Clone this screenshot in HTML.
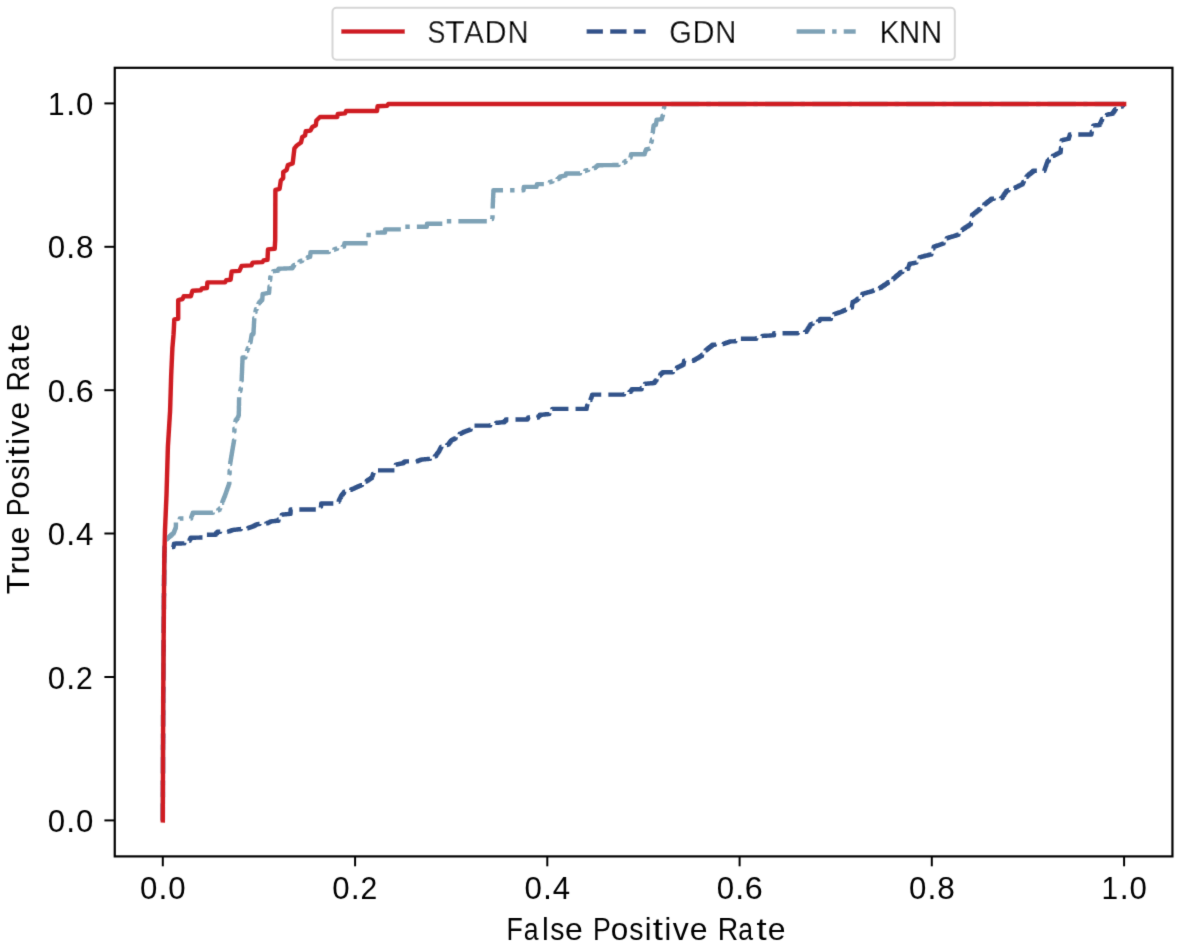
<!DOCTYPE html>
<html><head><meta charset="utf-8"><title>ROC</title>
<style>
html,body{margin:0;padding:0;background:#fff;}
svg{display:block;will-change:transform;}
text{font-family:'Liberation Sans',sans-serif;fill:#000;}
</style></head><body>
<svg width="1179" height="948" viewBox="0 0 1179 948">
<rect x="0" y="0" width="1179" height="948" fill="#fff"/>
<defs><filter id="b" x="0" y="0" width="1179" height="948" filterUnits="userSpaceOnUse"><feConvolveMatrix order="3" kernelMatrix="0.01134 0.08382 0.01134 0.08382 0.61935 0.08382 0.01134 0.08382 0.01134" divisor="1" edgeMode="duplicate" preserveAlpha="false"/></filter></defs><g filter="url(#b)">
<polyline points="162.8,820.4 162.8,818.9 162.8,817.4 162.8,815.9 162.8,814.4 162.8,812.9 162.8,811.4 162.8,809.9 162.8,808.5 162.8,807.0 162.8,805.5 162.8,804.0 162.9,804.0 162.9,802.5 162.9,801.0 162.9,799.5 162.9,798.1 162.9,796.6 162.9,795.1 162.9,793.6 162.9,792.1 162.9,790.6 162.9,789.1 162.9,787.7 162.9,786.2 162.9,784.7 162.9,783.2 162.9,781.7 162.9,780.2 162.9,778.7 162.9,777.3 162.9,775.8 162.9,774.3 163.0,774.3 163.0,772.8 163.0,771.3 163.0,769.8 163.0,768.3 163.0,766.9 163.0,765.4 163.0,763.9 163.0,762.4 163.0,760.9 163.0,759.4 163.0,757.9 163.0,756.5 163.0,755.0 163.0,753.5 163.0,752.0 163.0,750.5 163.0,749.0 163.0,747.5 163.0,746.1 163.0,744.6 163.1,744.6 163.1,743.1 163.1,741.6 163.1,740.1 163.1,738.6 163.1,737.1 163.1,735.7 163.1,734.2 163.1,732.7 163.1,731.2 163.1,729.7 163.1,728.2 163.1,726.7 163.1,725.3 163.1,723.8 163.1,722.3 163.1,720.8 163.1,719.3 163.1,717.8 163.1,716.3 163.1,714.9 163.2,714.9 163.2,713.4 163.2,711.9 163.2,710.4 163.2,708.9 163.2,707.4 163.2,705.9 163.2,704.5 163.2,703.0 163.2,701.5 163.2,700.0 163.2,698.5 163.2,697.0 163.2,695.5 163.2,694.1 163.2,692.6 163.3,692.6 163.3,691.1 163.3,689.6 163.3,688.1 163.3,686.6 163.3,685.1 163.3,683.6 163.3,682.2 163.3,680.7 163.3,679.2 163.4,679.2 163.4,677.7 163.4,676.2 163.4,674.7 163.4,673.2 163.4,671.8 163.4,670.3 163.4,668.8 163.4,667.3 163.4,665.8 163.4,664.3 163.5,664.3 163.5,662.8 163.5,661.4 163.5,659.9 163.5,658.4 163.5,656.9 163.5,655.4 163.5,653.9 163.5,652.4 163.5,650.9 163.6,650.9 163.6,649.5 163.6,648.0 163.6,646.5 163.6,645.0 163.6,643.5 163.6,642.0 163.6,640.5 163.6,639.1 163.6,637.6 163.7,637.6 163.7,636.1 163.7,634.6 163.7,633.1 163.7,631.6 163.7,630.1 163.7,628.6 163.7,627.2 163.7,625.7 163.7,624.2 163.8,624.2 163.8,622.7 163.8,621.2 163.8,619.7 163.8,618.2 163.8,616.8 163.8,615.3 163.8,613.8 163.8,612.3 163.8,610.8 163.8,609.3 163.9,609.3 163.9,607.8 163.9,606.4 163.9,604.9 163.9,603.4 163.9,601.9 163.9,600.4 163.9,598.9 163.9,597.4 163.9,595.9 164.0,595.9 164.0,594.5 164.0,593.0 164.0,591.5 164.0,590.0 164.0,588.5 164.0,587.0 164.0,585.5 164.0,584.0 164.1,584.0 164.1,582.5 164.1,581.0 164.1,579.5 164.1,578.0 164.1,576.5 164.1,575.0 164.2,575.0 164.2,573.5 164.2,572.0 164.2,570.5 164.2,569.0 164.2,567.5 164.2,566.0 164.2,564.5 164.3,564.5 164.3,563.0 164.3,561.5 164.3,560.0 164.3,558.6 164.3,557.1 164.4,557.1 164.4,555.7 164.4,554.2 164.4,552.8 164.5,552.8 164.5,551.3 164.5,549.9 164.5,548.4 164.6,548.4 164.6,547.0 173.5,547.0 173.5,545.9 173.8,545.9 173.8,544.7 174.0,544.7 174.0,543.6 174.3,543.6 175.7,543.6 175.7,543.5 177.2,543.5 178.6,543.5 180.0,543.5 181.4,543.5 181.4,543.4 182.9,543.4 184.3,543.4 184.3,542.7 185.7,542.7 185.7,542.0 187.0,542.0 187.0,541.4 188.3,541.4 188.3,540.7 189.7,540.7 189.7,539.2 190.6,539.2 190.6,537.8 191.5,537.8 192.9,537.8 192.9,537.7 194.2,537.7 195.6,537.7 195.6,537.6 197.0,537.6 198.4,537.6 199.8,537.6 199.8,537.5 201.1,537.5 202.5,537.5 202.5,536.8 203.8,536.8 203.8,536.1 205.0,536.1 205.0,535.5 206.2,535.5 206.2,534.8 207.5,534.8 215.8,534.8 215.8,533.3 217.3,533.3 217.3,531.8 218.8,531.8 220.2,531.8 220.2,531.7 221.7,531.7 223.1,531.7 224.5,531.7 225.9,531.7 225.9,531.6 227.4,531.6 228.8,531.6 228.8,531.2 230.1,531.2 230.1,530.8 231.4,530.8 231.4,530.3 232.6,530.3 232.6,529.9 233.9,529.9 233.9,529.8 235.3,529.8 235.3,529.6 236.6,529.6 236.6,529.5 238.0,529.5 238.0,529.3 239.3,529.3 239.3,529.2 240.7,529.2 240.7,529.0 242.0,529.0 242.0,528.9 243.2,528.9 243.2,528.7 244.5,528.7 244.5,528.5 245.8,528.5 245.8,528.4 247.0,528.4 247.0,528.2 248.3,528.2 248.3,527.7 249.8,527.7 249.8,527.2 251.2,527.2 251.2,526.7 252.7,526.7 252.7,526.2 254.1,526.2 254.1,525.5 255.4,525.5 255.4,524.8 256.8,524.8 256.8,524.1 258.1,524.1 258.1,524.0 259.5,524.0 259.5,523.9 260.8,523.9 260.8,523.8 262.2,523.8 262.2,523.7 263.5,523.7 263.5,523.6 264.9,523.6 264.9,523.5 266.2,523.5 266.2,523.4 267.6,523.4 267.6,522.7 269.0,522.7 269.0,522.1 270.3,522.1 270.3,521.4 271.7,521.4 271.7,521.3 273.1,521.3 273.1,521.1 274.4,521.1 274.4,521.0 275.8,521.0 275.8,520.8 277.1,520.8 277.1,520.7 278.5,520.7 278.5,519.5 279.3,519.5 279.3,518.3 280.1,518.3 280.1,517.0 281.0,517.0 281.0,515.8 281.8,515.8 281.8,514.6 282.6,514.6 282.6,514.5 283.9,514.5 283.9,514.4 285.2,514.4 285.2,514.2 286.6,514.2 286.6,514.1 287.9,514.1 287.9,514.0 289.2,514.0 289.2,513.9 290.5,513.9 290.5,512.4 290.6,512.4 290.6,511.0 290.6,509.5 290.7,509.5 320.8,509.5 320.8,508.0 320.9,508.0 320.9,506.5 321.1,506.5 321.1,505.0 321.2,505.0 321.2,503.5 321.3,503.5 334.0,503.5 334.0,503.1 335.2,503.1 335.2,502.6 336.4,502.6 336.4,502.2 337.6,502.2 337.6,501.8 338.8,501.8 338.8,500.3 339.6,500.3 339.6,498.8 340.3,498.8 340.3,497.3 341.1,497.3 341.1,495.8 341.8,495.8 341.8,494.4 343.0,494.4 343.0,493.1 344.1,493.1 344.1,491.7 345.3,491.7 345.3,491.2 346.8,491.2 346.8,490.8 348.3,490.8 348.3,490.3 349.8,490.3 349.8,489.9 351.3,489.9 351.3,489.3 352.6,489.3 352.6,488.7 354.0,488.7 354.0,488.1 355.3,488.1 355.3,487.5 356.6,487.5 356.6,486.9 358.0,486.9 358.0,486.3 359.3,486.3 359.3,485.7 360.7,485.7 360.7,485.1 362.0,485.1 362.0,484.2 363.2,484.2 363.2,483.4 364.4,483.4 364.4,482.5 365.5,482.5 365.5,481.6 366.7,481.6 366.7,480.7 368.0,480.7 368.0,479.8 369.4,479.8 369.4,478.9 370.7,478.9 370.7,478.0 372.0,478.0 372.0,476.7 372.4,476.7 372.4,475.4 372.9,475.4 372.9,474.0 373.4,474.0 373.4,472.7 373.8,472.7 373.8,471.5 374.4,471.5 374.4,470.4 375.0,470.4 394.6,470.4 394.6,469.0 394.9,469.0 394.9,467.6 395.2,467.6 395.2,466.3 395.5,466.3 395.5,464.9 395.8,464.9 395.8,464.6 397.1,464.6 397.1,464.3 398.4,464.3 398.4,464.0 399.6,464.0 399.6,463.8 400.9,463.8 400.9,463.5 402.2,463.5 402.2,463.2 403.5,463.2 403.5,462.3 404.7,462.3 404.7,461.4 405.9,461.4 408.9,461.4 417.6,461.4 417.6,460.8 419.0,460.8 419.0,460.2 420.3,460.2 420.3,459.6 421.7,459.6 421.7,459.5 423.1,459.5 423.1,459.4 424.4,459.4 424.4,459.2 425.8,459.2 425.8,459.1 427.2,459.1 427.2,459.0 428.5,459.0 428.5,458.9 429.9,458.9 429.9,458.4 431.1,458.4 431.1,457.8 432.3,457.8 432.3,457.3 433.6,457.3 433.6,456.7 434.8,456.7 434.8,456.2 436.0,456.2 436.0,455.0 436.8,455.0 436.8,453.8 437.6,453.8 437.6,452.6 438.5,452.6 438.5,451.4 439.3,451.4 439.3,450.0 440.0,450.0 440.0,448.7 440.7,448.7 440.7,447.3 441.4,447.3 441.4,446.8 442.9,446.8 442.9,446.2 444.4,446.2 444.4,445.7 445.8,445.7 445.8,445.1 447.3,445.1 447.3,444.6 448.8,444.6 448.8,443.3 449.7,443.3 449.7,441.9 450.7,441.9 450.7,440.6 451.6,440.6 451.6,439.9 452.9,439.9 452.9,439.2 454.3,439.2 454.3,438.5 455.6,438.5 455.6,437.3 457.0,437.3 457.0,436.1 458.4,436.1 458.4,435.0 459.7,435.0 459.7,433.8 461.1,433.8 461.1,433.1 462.4,433.1 462.4,432.4 463.8,432.4 463.8,431.7 465.1,431.7 465.1,431.2 466.5,431.2 466.5,430.7 467.9,430.7 467.9,430.2 469.2,430.2 469.2,429.7 470.6,429.7 470.6,428.7 471.8,428.7 471.8,427.6 473.0,427.6 473.0,426.6 474.1,426.6 474.1,425.6 475.3,425.6 490.2,425.6 490.2,425.1 491.4,425.1 491.4,424.5 492.6,424.5 492.6,424.0 493.9,424.0 493.9,423.4 495.1,423.4 495.1,422.9 496.3,422.9 496.3,422.8 497.7,422.8 497.7,422.7 499.0,422.7 499.0,422.5 500.4,422.5 500.4,422.4 501.8,422.4 501.8,422.3 503.1,422.3 503.1,422.2 504.5,422.2 504.5,420.9 505.9,420.9 505.9,419.5 507.2,419.5 527.5,419.5 527.5,418.5 528.2,418.5 528.2,417.5 528.9,417.5 538.4,417.5 538.4,416.1 539.8,416.1 539.8,414.8 541.1,414.8 541.1,414.7 542.5,414.7 542.5,414.6 543.8,414.6 543.8,414.5 545.2,414.5 545.2,414.3 546.6,414.3 546.6,414.2 547.9,414.2 547.9,414.1 549.3,414.1 549.3,412.8 550.3,412.8 550.3,411.5 551.3,411.5 551.3,410.2 552.3,410.2 552.3,408.9 553.3,408.9 586.6,408.9 586.6,407.8 586.8,407.8 586.8,406.6 587.1,406.6 587.1,405.5 587.3,405.5 587.3,404.1 588.1,404.1 588.1,402.8 589.0,402.8 589.0,401.5 589.9,401.5 589.9,400.1 590.7,400.1 590.7,398.7 591.2,398.7 591.2,397.4 591.7,397.4 591.7,396.0 592.2,396.0 592.2,394.6 592.7,394.6 624.0,394.6 624.0,394.1 625.3,394.1 625.3,393.5 626.7,393.5 626.7,393.0 628.0,393.0 628.0,392.4 629.4,392.4 629.4,391.9 630.7,391.9 630.7,390.5 631.8,390.5 631.8,389.2 632.8,389.2 641.6,389.2 641.6,387.9 642.5,387.9 642.5,386.5 643.3,386.5 643.3,385.1 644.1,385.1 644.1,383.8 645.0,383.8 645.0,383.7 646.4,383.7 646.4,383.6 647.7,383.6 647.7,383.5 649.1,383.5 649.1,383.4 650.4,383.4 650.4,383.3 651.8,383.3 651.8,383.2 653.1,383.2 653.1,383.1 654.5,383.1 654.5,381.8 655.5,381.8 655.5,380.4 656.5,380.4 656.5,379.2 657.5,379.2 657.5,378.0 658.4,378.0 658.4,376.7 659.4,376.7 659.4,375.5 660.3,375.5 660.3,374.3 661.3,374.3 661.3,373.2 662.6,373.2 662.6,372.2 664.0,372.2 672.8,372.2 672.8,370.9 674.2,370.9 674.2,369.5 675.5,369.5 675.5,368.2 676.9,368.2 676.9,367.5 678.2,367.5 678.2,366.8 679.6,366.8 679.6,366.2 680.9,366.2 680.9,365.5 682.3,365.5 682.3,364.8 683.6,364.8 683.6,363.4 683.8,363.4 683.8,362.1 684.1,362.1 684.1,360.7 684.3,360.7 693.8,360.7 693.8,359.9 695.2,359.9 695.2,359.1 696.5,359.1 696.5,358.4 697.9,358.4 697.9,357.6 699.3,357.6 699.3,356.8 700.6,356.8 700.6,356.0 702.0,356.0 702.0,354.6 703.2,354.6 703.2,353.1 704.4,353.1 704.4,351.6 705.6,351.6 705.6,350.2 706.8,350.2 706.8,349.1 708.2,349.1 708.2,348.0 709.5,348.0 709.5,347.0 710.9,347.0 710.9,345.9 712.2,345.9 712.2,344.8 713.6,344.8 713.6,344.7 715.0,344.7 715.0,344.6 716.5,344.6 716.5,344.5 717.9,344.5 717.9,344.4 719.4,344.4 719.4,344.3 720.8,344.3 720.8,344.2 722.3,344.2 722.3,344.1 723.7,344.1 723.7,343.6 725.2,343.6 725.2,343.0 726.7,343.0 726.7,342.5 728.2,342.5 728.2,341.9 729.7,341.9 729.7,341.4 731.2,341.4 735.3,341.4 735.3,340.9 736.7,340.9 736.7,340.3 738.0,340.3 738.0,339.8 739.4,339.8 739.4,339.2 740.7,339.2 740.7,338.7 742.1,338.7 756.3,338.7 756.3,338.2 757.5,338.2 757.5,337.6 758.7,337.6 758.7,337.1 760.0,337.1 760.0,336.5 761.2,336.5 761.2,336.0 762.4,336.0 762.4,335.9 763.9,335.9 763.9,335.8 765.3,335.8 765.3,335.7 766.8,335.7 766.8,335.6 768.2,335.6 769.6,335.6 769.6,335.5 771.1,335.5 771.1,335.4 772.5,335.4 772.5,335.3 774.0,335.3 774.0,333.3 797.7,333.3 797.7,333.1 799.2,333.1 799.2,332.8 800.6,332.8 800.6,332.6 802.1,332.6 802.1,332.4 803.6,332.4 803.6,332.1 805.0,332.1 805.0,331.9 806.5,331.9 806.5,330.4 807.5,330.4 807.5,328.9 808.4,328.9 808.4,327.5 809.4,327.5 809.4,326.0 810.3,326.0 810.3,324.5 811.3,324.5 811.3,323.9 812.6,323.9 812.6,323.4 814.0,323.4 814.0,322.8 815.3,322.8 815.3,322.2 816.7,322.2 816.7,321.7 818.0,321.7 818.0,321.1 819.4,321.1 819.4,320.1 820.1,320.1 820.1,319.0 820.8,319.0 830.9,319.0 830.9,317.8 831.8,317.8 831.8,316.6 832.6,316.6 832.6,315.5 833.4,315.5 833.4,314.3 834.3,314.3 834.3,313.9 835.7,313.9 835.7,313.4 837.0,313.4 837.0,313.0 838.4,313.0 838.4,312.5 839.8,312.5 839.8,312.1 841.1,312.1 841.1,311.6 842.5,311.6 842.5,310.9 843.9,310.9 843.9,310.2 845.2,310.2 845.2,309.7 846.6,309.7 846.6,309.1 847.9,309.1 847.9,308.6 849.3,308.6 849.3,308.0 850.6,308.0 850.6,307.5 852.0,307.5 852.0,306.3 852.1,306.3 852.1,305.1 852.3,305.1 852.3,303.9 852.5,303.9 852.5,302.7 852.6,302.7 852.6,302.0 853.8,302.0 853.8,301.4 855.0,301.4 855.0,300.7 856.2,300.7 856.2,300.0 857.4,300.0 857.4,298.8 858.6,298.8 858.6,297.5 859.9,297.5 859.9,296.3 861.1,296.3 861.1,295.0 862.4,295.0 862.4,293.8 863.6,293.8 863.6,293.4 865.0,293.4 865.0,293.0 866.3,293.0 866.3,292.6 867.7,292.6 867.7,292.3 869.0,292.3 869.0,291.9 870.4,291.9 870.4,291.5 871.7,291.5 871.7,291.1 873.1,291.1 873.1,290.5 874.5,290.5 874.5,290.0 875.8,290.0 875.8,289.4 877.2,289.4 877.2,288.8 878.5,288.8 878.5,288.3 879.9,288.3 879.9,287.7 881.2,287.7 881.2,286.8 882.6,286.8 882.6,285.9 883.9,285.9 883.9,285.0 885.2,285.0 885.2,284.1 886.6,284.1 886.6,283.2 887.9,283.2 887.9,282.3 889.3,282.3 889.3,281.3 890.7,281.3 890.7,280.2 892.0,280.2 892.0,279.2 893.4,279.2 893.4,278.2 894.8,278.2 894.8,277.1 896.0,277.1 896.0,276.0 897.2,276.0 897.2,275.0 898.5,275.0 898.5,273.9 899.7,273.9 899.7,272.8 900.9,272.8 900.9,272.0 902.4,272.0 902.4,271.2 903.9,271.2 903.9,270.3 905.3,270.3 905.3,269.5 906.8,269.5 906.8,268.7 908.3,268.7 908.3,267.5 908.6,267.5 908.6,266.4 909.0,266.4 909.0,265.2 909.4,265.2 909.4,264.0 909.7,264.0 909.7,263.7 911.1,263.7 911.1,263.4 912.4,263.4 912.4,263.2 913.8,263.2 913.8,262.9 915.1,262.9 915.1,262.6 916.5,262.6 916.5,261.2 917.5,261.2 917.5,259.9 918.5,259.9 918.5,258.6 919.6,258.6 919.6,257.2 920.6,257.2 920.6,256.9 922.0,256.9 922.0,256.5 923.3,256.5 923.3,256.2 924.6,256.2 924.6,255.8 926.0,255.8 926.0,255.5 927.4,255.5 927.4,255.2 928.7,255.2 928.7,254.8 930.0,254.8 930.0,254.5 931.4,254.5 931.4,253.0 931.9,253.0 931.9,251.5 932.5,251.5 932.5,250.0 933.0,250.0 933.0,248.5 933.6,248.5 933.6,247.0 934.1,247.0 934.1,246.5 935.5,246.5 935.5,246.0 936.8,246.0 936.8,245.5 938.2,245.5 938.2,245.1 939.5,245.1 939.5,244.6 940.9,244.6 940.9,244.1 942.2,244.1 942.2,243.6 943.6,243.6 943.6,242.2 944.6,242.2 944.6,240.9 945.7,240.9 945.7,239.5 946.7,239.5 946.7,238.2 947.7,238.2 947.7,237.8 949.1,237.8 949.1,237.3 950.4,237.3 950.4,236.9 951.8,236.9 951.8,236.5 953.1,236.5 953.1,236.1 954.5,236.1 954.5,235.7 955.8,235.7 955.8,235.2 957.1,235.2 957.1,234.8 958.5,234.8 958.5,233.6 959.5,233.6 959.5,232.4 960.5,232.4 960.5,231.2 961.6,231.2 961.6,230.0 962.6,230.0 962.6,229.1 964.0,229.1 964.0,228.2 965.3,228.2 965.3,227.3 966.7,227.3 966.7,226.4 968.1,226.4 968.1,225.5 969.4,225.5 969.4,224.6 970.8,224.6 970.8,223.1 971.0,223.1 971.0,221.7 971.2,221.7 971.2,220.2 971.5,220.2 971.5,218.7 971.7,218.7 971.7,217.3 971.9,217.3 971.9,215.8 972.1,215.8 972.1,214.7 973.5,214.7 973.5,213.6 974.8,213.6 974.8,212.6 976.2,212.6 976.2,211.5 977.5,211.5 977.5,210.4 978.9,210.4 978.9,209.2 980.3,209.2 980.3,207.9 981.6,207.9 981.6,206.7 983.0,206.7 983.0,205.4 984.3,205.4 984.3,204.2 985.7,204.2 985.7,203.1 987.1,203.1 987.1,202.0 988.4,202.0 988.4,201.0 989.8,201.0 989.8,199.9 991.1,199.9 991.1,198.8 992.5,198.8 992.5,198.7 993.9,198.7 993.9,198.6 995.3,198.6 995.3,198.5 996.7,198.5 996.7,198.4 998.2,198.4 998.2,198.3 999.6,198.3 999.6,198.2 1001.0,198.2 1001.0,198.1 1002.4,198.1 1002.4,196.7 1003.3,196.7 1003.3,195.3 1004.3,195.3 1004.3,193.8 1005.2,193.8 1005.2,192.4 1006.2,192.4 1006.2,191.0 1007.1,191.0 1007.1,190.5 1008.5,190.5 1008.5,190.0 1009.9,190.0 1009.9,189.5 1011.2,189.5 1011.2,189.0 1012.6,189.0 1012.6,188.5 1014.0,188.5 1014.0,188.0 1015.4,188.0 1015.4,187.3 1016.8,187.3 1016.8,186.6 1018.3,186.6 1018.3,185.8 1019.7,185.8 1019.7,185.1 1021.2,185.1 1021.2,184.4 1022.6,184.4 1022.6,183.2 1023.2,183.2 1023.2,182.0 1023.8,182.0 1023.8,180.7 1024.7,180.7 1024.7,179.3 1025.5,179.3 1025.5,178.0 1026.4,178.0 1026.4,176.7 1027.3,176.7 1027.3,175.5 1028.7,175.5 1028.7,174.3 1030.1,174.3 1030.1,173.2 1031.6,173.2 1031.6,172.0 1033.0,172.0 1033.0,170.8 1034.4,170.8 1044.5,170.8 1044.5,169.4 1045.0,169.4 1045.0,168.0 1045.5,168.0 1045.5,166.6 1046.0,166.6 1046.0,165.2 1046.5,165.2 1046.5,163.8 1047.0,163.8 1047.0,162.4 1047.5,162.4 1047.5,160.9 1048.8,160.9 1048.8,159.4 1050.2,159.4 1050.2,158.0 1051.6,158.0 1051.6,156.5 1052.9,156.5 1052.9,155.8 1054.2,155.8 1054.2,155.1 1055.5,155.1 1055.5,154.4 1056.8,154.4 1056.8,153.8 1058.0,153.8 1058.0,153.1 1059.3,153.1 1059.3,152.4 1060.6,152.4 1060.6,150.9 1060.8,150.9 1060.8,149.4 1060.9,149.4 1060.9,147.9 1061.0,147.9 1061.0,146.4 1061.2,146.4 1061.2,145.0 1061.3,145.0 1061.3,143.5 1061.5,143.5 1061.5,142.0 1061.6,142.0 1061.6,140.5 1061.8,140.5 1061.8,140.1 1063.2,140.1 1063.2,139.8 1064.6,139.8 1064.6,139.4 1066.1,139.4 1066.1,139.1 1067.5,139.1 1067.5,138.7 1068.9,138.7 1068.9,137.3 1069.3,137.3 1069.3,135.9 1069.7,135.9 1069.7,134.5 1070.1,134.5 1091.4,134.5 1091.4,133.1 1091.7,133.1 1091.7,131.6 1092.0,131.6 1092.0,130.1 1092.5,130.1 1092.5,128.6 1092.9,128.6 1092.9,127.1 1093.3,127.1 1093.3,125.6 1093.8,125.6 1093.8,125.4 1095.3,125.4 1095.3,125.3 1096.8,125.3 1096.8,125.2 1098.3,125.2 1098.3,125.0 1099.8,125.0 1099.8,123.8 1100.4,123.8 1100.4,122.7 1100.9,122.7 1100.9,121.5 1101.5,121.5 1101.5,120.3 1102.1,120.3 1102.1,119.0 1103.3,119.0 1103.3,117.6 1104.5,117.6 1104.5,116.2 1105.7,116.2 1105.7,114.9 1106.9,114.9 1106.9,114.6 1108.4,114.6 1108.4,114.3 1109.8,114.3 1109.8,114.1 1111.3,114.1 1111.3,113.8 1112.8,113.8 1112.8,112.4 1113.8,112.4 1113.8,111.0 1114.8,111.0 1114.8,109.6 1115.8,109.6 1115.8,109.0 1117.1,109.0 1117.1,108.4 1118.4,108.4 1118.4,107.8 1119.7,107.8 1119.7,107.2 1121.0,107.2 1121.0,106.6 1122.3,106.6 1122.3,105.3 1123.2,105.3 1123.2,104.0 1124.1,104.0" fill="none" stroke="#31538a" stroke-width="4.443" stroke-dasharray="16.44 7.11" stroke-linejoin="round"/>
<polyline points="162.8,820.4 162.8,818.9 162.8,817.4 162.8,815.9 162.8,814.4 162.8,812.9 162.8,811.4 162.8,809.9 162.8,808.5 162.8,807.0 162.8,805.5 162.8,804.0 162.9,804.0 162.9,802.5 162.9,801.0 162.9,799.5 162.9,798.1 162.9,796.6 162.9,795.1 162.9,793.6 162.9,792.1 162.9,790.6 162.9,789.1 162.9,787.7 162.9,786.2 162.9,784.7 162.9,783.2 162.9,781.7 162.9,780.2 162.9,778.7 162.9,777.3 162.9,775.8 162.9,774.3 163.0,774.3 163.0,772.8 163.0,771.3 163.0,769.8 163.0,768.3 163.0,766.9 163.0,765.4 163.0,763.9 163.0,762.4 163.0,760.9 163.0,759.4 163.0,757.9 163.0,756.5 163.0,755.0 163.0,753.5 163.0,752.0 163.0,750.5 163.0,749.0 163.0,747.5 163.0,746.1 163.0,744.6 163.1,744.6 163.1,743.1 163.1,741.6 163.1,740.1 163.1,738.6 163.1,737.1 163.1,735.7 163.1,734.2 163.1,732.7 163.1,731.2 163.1,729.7 163.1,728.2 163.1,726.7 163.1,725.3 163.1,723.8 163.1,722.3 163.1,720.8 163.1,719.3 163.1,717.8 163.1,716.3 163.1,714.9 163.2,714.9 163.2,713.4 163.2,711.9 163.2,710.4 163.2,708.9 163.2,707.4 163.2,705.9 163.2,704.5 163.2,703.0 163.2,701.5 163.2,700.0 163.2,698.5 163.2,697.0 163.2,695.5 163.2,694.1 163.2,692.6 163.3,692.6 163.3,691.1 163.3,689.6 163.3,688.1 163.3,686.6 163.3,685.1 163.3,683.6 163.3,682.2 163.3,680.7 163.3,679.2 163.4,679.2 163.4,677.7 163.4,676.2 163.4,674.7 163.4,673.2 163.4,671.8 163.4,670.3 163.4,668.8 163.4,667.3 163.4,665.8 163.4,664.3 163.5,664.3 163.5,662.8 163.5,661.4 163.5,659.9 163.5,658.4 163.5,656.9 163.5,655.4 163.5,653.9 163.5,652.4 163.5,650.9 163.6,650.9 163.6,649.5 163.6,648.0 163.6,646.5 163.6,645.0 163.6,643.5 163.6,642.0 163.6,640.5 163.6,639.1 163.6,637.6 163.7,637.6 163.7,636.1 163.7,634.6 163.7,633.1 163.7,631.6 163.7,630.1 163.7,628.6 163.7,627.2 163.7,625.7 163.7,624.2 163.8,624.2 163.8,622.7 163.8,621.2 163.8,619.7 163.8,618.2 163.8,616.8 163.8,615.3 163.8,613.8 163.8,612.3 163.8,610.8 163.8,609.3 163.9,609.3 163.9,607.8 163.9,606.4 163.9,604.9 163.9,603.4 163.9,601.9 163.9,600.4 163.9,598.9 163.9,597.4 163.9,595.9 164.0,595.9 164.0,594.5 164.0,593.0 164.0,591.5 164.0,590.0 164.0,588.5 164.0,587.0 164.0,585.5 164.0,584.0 164.1,584.0 164.1,582.5 164.1,581.0 164.1,579.5 164.1,578.0 164.1,576.5 164.1,575.0 164.2,575.0 164.2,573.5 164.2,572.0 164.2,570.5 164.2,569.0 164.2,567.5 164.2,566.0 164.2,564.5 164.3,564.5 164.3,563.0 164.3,561.5 164.3,560.0 164.3,558.5 164.3,557.1 164.3,555.6 164.4,555.6 164.4,554.2 164.4,552.7 164.4,551.2 164.4,549.8 164.5,549.8 164.5,548.3 164.5,546.8 164.5,545.4 164.5,543.9 164.6,543.9 164.6,542.5 164.6,541.0 164.6,540.1 165.8,540.1 165.8,539.2 167.1,539.2 167.1,538.3 168.3,538.3 168.3,537.1 169.7,537.1 169.7,536.0 171.0,536.0 171.0,534.8 172.3,534.8 172.3,533.6 173.7,533.6 173.7,532.3 174.2,532.3 174.2,531.0 174.8,531.0 174.8,529.6 175.3,529.6 175.3,528.3 175.8,528.3 175.8,526.8 175.9,526.8 175.9,525.3 175.9,523.8 175.9,522.3 176.0,522.3 176.0,521.3 177.3,521.3 177.3,520.4 178.6,520.4 178.6,519.5 179.8,519.5 179.8,518.5 181.1,518.5 191.2,518.5 191.2,517.1 191.7,517.1 191.7,515.6 192.2,515.6 192.2,514.2 192.8,514.2 192.8,512.8 193.3,512.8 212.9,512.8 212.9,512.2 214.3,512.2 214.3,511.6 215.6,511.6 215.6,511.0 217.0,511.0 217.0,510.4 218.3,510.4 218.3,509.8 219.7,509.8 219.7,508.4 220.2,508.4 220.2,507.0 220.8,507.0 220.8,505.6 221.3,505.6 221.3,504.3 221.8,504.3 221.8,502.9 222.4,502.9 222.4,501.5 222.9,501.5 222.9,500.2 223.4,500.2 223.4,498.9 223.9,498.9 223.9,497.6 224.5,497.6 224.5,496.3 225.0,496.3 225.0,495.0 225.5,495.0 225.5,493.6 226.0,493.6 226.0,492.2 226.4,492.2 226.4,490.9 226.9,490.9 226.9,489.5 227.4,489.5 227.4,488.1 227.9,488.1 227.9,486.8 228.4,486.8 228.4,485.4 228.8,485.4 228.8,484.0 229.3,484.0 229.3,482.5 229.3,481.0 229.4,481.0 229.4,479.5 229.4,478.0 229.4,476.5 229.5,476.5 229.5,475.0 229.5,473.5 229.6,473.5 229.6,472.0 229.6,470.7 229.7,470.7 229.7,469.3 229.8,469.3 229.8,468.0 229.9,468.0 229.9,466.7 230.1,466.7 230.1,465.4 230.2,465.4 230.2,464.0 230.3,464.0 230.3,462.7 230.4,462.7 230.4,461.2 230.7,461.2 230.7,459.7 230.9,459.7 230.9,458.2 231.2,458.2 231.2,456.8 231.4,456.8 231.4,455.3 231.7,455.3 231.7,453.8 231.9,453.8 231.9,452.3 232.2,452.3 232.2,450.8 232.4,450.8 232.4,449.3 232.7,449.3 232.7,447.8 232.9,447.8 232.9,446.3 233.2,446.3 233.2,444.9 233.4,444.9 233.4,443.4 233.7,443.4 233.7,441.9 233.9,441.9 233.9,440.4 234.2,440.4 234.2,438.9 234.2,437.4 234.3,437.4 234.3,435.9 234.3,434.5 234.3,433.0 234.3,431.5 234.4,431.5 234.4,430.0 234.4,428.6 234.6,428.6 234.6,427.1 234.8,427.1 234.8,425.7 235.0,425.7 235.0,424.3 235.2,424.3 235.2,422.8 235.4,422.8 235.4,421.4 235.6,421.4 235.6,420.3 236.4,420.3 236.4,419.2 237.2,419.2 237.2,418.1 238.0,418.1 238.0,416.8 238.4,416.8 238.4,415.5 238.8,415.5 238.8,414.1 238.8,412.7 238.8,411.3 238.9,411.3 238.9,409.9 238.9,408.5 238.9,407.1 238.9,405.8 239.0,405.8 239.0,404.4 239.0,403.0 239.0,401.6 239.0,400.2 239.1,400.2 239.1,398.8 239.1,397.4 239.1,396.1 239.4,396.1 239.4,394.9 239.6,394.9 239.6,393.6 239.9,393.6 239.9,392.3 240.2,392.3 240.2,391.1 240.4,391.1 240.4,389.8 240.7,389.8 240.7,388.5 240.8,388.5 240.8,387.1 241.0,387.1 241.0,385.8 241.1,385.8 241.1,384.5 241.3,384.5 241.3,383.1 241.4,383.1 241.4,381.8 241.6,381.8 241.6,380.4 241.7,380.4 241.7,378.9 241.7,377.5 241.8,377.5 241.8,376.1 241.8,374.7 241.9,374.7 241.9,373.2 242.0,373.2 242.0,371.8 242.0,370.4 242.1,370.4 242.1,368.9 242.1,367.5 242.2,367.5 242.2,366.1 242.2,364.6 242.3,364.6 242.3,363.2 242.4,363.2 242.4,361.8 242.4,360.4 242.5,360.4 242.5,358.9 242.5,357.5 242.6,357.5 245.4,357.5 245.4,356.2 245.8,356.2 245.8,354.8 246.2,354.8 246.2,353.5 246.6,353.5 246.6,352.2 247.0,352.2 247.0,350.8 247.4,350.8 247.4,349.5 247.8,349.5 247.8,348.1 248.4,348.1 248.4,346.6 248.9,346.6 248.9,345.2 249.5,345.2 249.5,343.7 250.0,343.7 250.0,342.3 250.6,342.3 250.6,341.0 250.8,341.0 250.8,339.7 251.0,339.7 251.0,338.3 251.2,338.3 251.2,337.0 251.4,337.0 251.4,335.7 251.6,335.7 251.6,334.8 252.6,334.8 252.6,333.8 253.5,333.8 253.5,332.4 253.6,332.4 253.6,331.0 253.6,329.6 253.7,329.6 253.7,328.2 253.8,328.2 253.8,326.8 253.9,326.8 253.9,325.3 253.9,323.9 254.0,323.9 254.0,322.5 254.1,322.5 254.1,321.1 254.2,321.1 254.2,319.7 254.2,318.3 254.3,318.3 254.3,317.0 254.6,317.0 254.6,315.7 254.8,315.7 254.8,314.5 255.1,314.5 255.1,313.2 255.4,313.2 255.4,311.9 255.6,311.9 255.6,310.6 255.9,310.6 255.9,309.2 256.6,309.2 256.6,307.7 257.2,307.7 257.2,306.3 257.9,306.3 257.9,304.8 258.5,304.8 258.5,303.4 259.2,303.4 259.2,302.3 260.2,302.3 260.2,301.1 261.3,301.1 261.3,300.0 262.3,300.0 262.3,298.5 262.4,298.5 262.4,297.1 262.5,297.1 262.5,295.6 262.6,295.6 262.6,294.1 262.7,294.1 262.7,293.9 264.0,293.9 264.0,293.6 265.3,293.6 265.3,293.4 266.5,293.4 266.5,293.1 267.8,293.1 267.8,292.9 269.1,292.9 269.1,291.6 269.2,291.6 269.2,290.4 269.3,290.4 269.3,289.1 269.4,289.1 269.4,287.8 269.5,287.8 269.5,286.5 269.6,286.5 269.6,285.1 269.7,285.1 269.7,283.8 269.8,283.8 269.8,282.5 269.9,282.5 269.9,281.2 270.1,281.2 270.1,279.9 270.2,279.9 270.2,278.5 270.3,278.5 270.3,277.2 270.4,277.2 270.4,275.7 271.1,275.7 271.1,274.2 271.9,274.2 271.9,272.7 272.6,272.7 272.6,271.2 273.3,271.2 273.3,271.1 274.5,271.1 274.5,271.0 275.6,271.0 275.6,270.9 276.8,270.9 276.8,270.8 278.0,270.8 278.0,269.8 278.6,269.8 278.6,268.7 279.3,268.7 280.8,268.7 280.8,268.6 282.2,268.6 283.7,268.6 283.7,268.5 285.1,268.5 286.6,268.5 286.6,268.4 288.0,268.4 289.5,268.4 289.5,268.3 290.9,268.3 292.4,268.3 292.4,267.0 293.2,267.0 293.2,265.7 294.1,265.7 294.1,264.9 295.5,264.9 295.5,264.0 296.8,264.0 296.8,263.2 298.2,263.2 298.2,262.3 299.5,262.3 299.5,261.5 300.9,261.5 300.9,260.7 302.3,260.7 302.3,260.0 303.6,260.0 303.6,259.2 305.0,259.2 305.0,258.5 306.3,258.5 306.3,257.7 307.7,257.7 307.7,257.2 308.9,257.2 308.9,256.8 310.2,256.8 310.2,255.6 310.3,255.6 310.3,254.4 310.4,254.4 310.4,253.3 310.5,253.3 310.5,252.1 310.6,252.1 328.9,252.1 328.9,251.5 330.3,251.5 330.3,250.9 331.6,250.9 331.6,250.4 333.0,250.4 333.0,249.8 334.3,249.8 334.3,249.2 335.7,249.2 335.7,248.8 337.1,248.8 337.1,248.3 338.5,248.3 338.5,247.9 339.9,247.9 339.9,247.5 341.3,247.5 341.3,247.0 342.7,247.0 342.7,246.6 344.1,246.6 344.1,245.5 344.2,245.5 344.2,244.4 344.4,244.4 344.4,243.3 344.5,243.3 368.3,243.3 368.3,242.0 368.4,242.0 368.4,240.7 368.4,239.3 368.5,239.3 368.5,238.0 368.6,238.0 368.6,236.7 368.6,235.3 368.7,235.3 368.7,234.0 368.7,232.7 368.8,232.7 370.3,232.7 371.7,232.7 371.7,232.6 373.2,232.6 374.7,232.6 376.2,232.6 377.6,232.6 379.1,232.6 380.6,232.6 380.6,232.5 382.1,232.5 383.5,232.5 385.0,232.5 385.0,231.5 385.1,231.5 385.1,230.4 385.1,229.4 385.2,229.4 405.0,229.4 405.0,228.1 405.2,228.1 405.2,226.8 405.5,226.8 426.8,226.8 426.8,225.3 427.0,225.3 427.0,223.8 427.2,223.8 446.0,223.8 446.0,222.5 446.2,222.5 446.2,221.2 446.5,221.2 491.5,221.2 491.5,220.1 491.8,220.1 491.8,219.1 492.2,219.1 492.2,218.0 492.5,218.0 492.5,216.6 492.5,215.1 492.6,215.1 492.6,213.7 492.6,212.3 492.6,210.9 492.6,209.4 492.7,209.4 492.7,208.0 492.7,206.5 492.8,206.5 492.8,205.1 492.8,203.6 492.9,203.6 492.9,202.1 493.0,202.1 493.0,200.6 493.0,199.2 493.1,199.2 493.1,197.7 493.2,197.7 493.2,196.2 493.2,194.7 493.3,194.7 493.3,193.2 493.4,193.2 493.4,191.8 493.4,190.3 493.5,190.3 523.5,190.3 523.5,189.2 523.7,189.2 523.7,188.0 523.8,188.0 523.8,186.9 524.0,186.9 536.5,186.9 536.5,185.5 537.0,185.5 537.0,184.1 537.4,184.1 544.4,184.1 544.4,183.7 545.8,183.7 545.8,183.3 547.1,183.3 547.1,182.8 548.5,182.8 548.5,182.4 549.8,182.4 549.8,182.0 551.2,182.0 551.2,181.5 552.5,181.5 552.5,181.0 553.7,181.0 553.7,180.5 555.0,180.5 555.0,180.0 556.3,180.0 556.3,179.5 557.5,179.5 557.5,179.0 558.8,179.0 558.8,177.8 560.1,177.8 560.1,176.5 561.4,176.5 561.4,176.2 562.8,176.2 562.8,175.9 564.2,175.9 564.2,175.6 565.6,175.6 565.6,174.6 566.0,174.6 566.0,173.5 566.5,173.5 580.0,173.5 580.0,172.9 581.4,172.9 581.4,172.3 582.7,172.3 582.7,171.7 584.1,171.7 584.1,171.1 585.4,171.1 585.4,170.5 586.8,170.5 586.8,170.1 588.2,170.1 588.2,169.7 589.6,169.7 589.6,169.2 591.0,169.2 591.0,168.8 592.5,168.8 592.5,168.4 593.9,168.4 593.9,168.0 595.3,168.0 595.3,167.1 596.4,167.1 596.4,166.1 597.6,166.1 597.6,165.2 598.7,165.2 600.1,165.2 601.5,165.2 603.0,165.2 603.0,165.1 604.4,165.1 605.8,165.1 607.2,165.1 608.7,165.1 610.1,165.1 611.5,165.1 612.9,165.1 612.9,165.0 614.3,165.0 615.8,165.0 617.2,165.0 618.6,165.0 618.6,164.4 620.0,164.4 620.0,163.8 621.4,163.8 621.4,163.3 622.7,163.3 622.7,162.7 624.1,162.7 624.1,162.1 625.5,162.1 625.5,161.0 626.8,161.0 626.8,159.8 628.0,159.8 628.0,158.7 629.3,158.7 629.3,157.6 630.6,157.6 630.6,156.5 630.8,156.5 630.8,155.3 631.1,155.3 631.1,154.2 631.3,154.2 644.7,154.2 644.7,153.0 645.1,153.0 645.1,151.8 645.5,151.8 645.5,150.6 646.0,150.6 646.0,149.4 646.4,149.4 646.4,149.2 647.7,149.2 647.7,148.9 648.9,148.9 648.9,148.7 650.2,148.7 650.2,147.4 650.5,147.4 650.5,146.1 650.8,146.1 650.8,144.8 651.0,144.8 651.0,143.4 651.3,143.4 651.3,142.1 651.6,142.1 651.6,140.8 651.9,140.8 651.9,139.4 652.1,139.4 652.1,137.9 652.2,137.9 652.2,136.5 652.4,136.5 652.4,135.1 652.6,135.1 652.6,133.6 652.7,133.6 652.7,132.2 652.9,132.2 652.9,131.0 653.0,131.0 653.0,129.8 653.2,129.8 653.2,128.5 653.3,128.5 653.3,127.3 653.5,127.3 653.5,126.1 653.6,126.1 653.6,125.4 654.8,125.4 654.8,124.7 656.0,124.7 656.0,123.5 656.2,123.5 656.2,122.3 656.4,122.3 656.4,121.1 656.5,121.1 656.5,119.9 656.7,119.9 656.7,119.7 658.0,119.7 658.0,119.6 659.2,119.6 659.2,119.4 660.5,119.4 660.5,119.2 661.8,119.2 661.8,118.1 662.2,118.1 662.2,116.9 662.5,116.9 662.5,115.8 662.9,115.8 662.9,114.4 663.0,114.4 663.0,113.0 663.2,113.0 663.2,111.6 663.5,111.6 663.5,110.2 663.7,110.2 663.7,108.9 664.0,108.9 664.0,107.5 664.2,107.5 664.2,106.3 664.3,106.3 664.3,105.2 664.4,105.2 664.4,104.0 664.5,104.0 1124.1,104.0" fill="none" stroke="#7ea2b6" stroke-width="4.443" stroke-dasharray="28.43 7.11 4.443 7.11" stroke-linejoin="round"/>
<polyline points="162.8,820.4 163.2,700.0 164.0,590.0 164.3,560.0 165.0,530.0 166.5,495.0 167.9,446.6 170.1,410.7 171.2,374.8 172.4,347.9 173.5,335.0 173.8,330.0 174.3,319.4 178.2,318.8 178.2,300.1 182.6,299.0 183.7,296.2 190.9,296.2 192.5,290.7 200.8,290.2 201.9,288.5 206.9,288.0 207.4,282.4 225.0,282.4 226.2,280.2 230.6,279.7 231.7,271.4 239.4,270.9 241.6,265.9 251.5,265.4 252.6,262.6 262.5,262.1 263.6,260.4 267.5,259.8 268.0,249.4 274.7,248.8 275.2,240.0 275.4,190.0 279.6,188.8 280.8,180.5 283.2,178.1 283.2,172.2 286.7,169.8 287.9,165.1 292.7,163.3 294.4,148.4 296.8,145.5 301.0,142.5 302.2,137.2 305.1,135.4 305.7,131.2 310.5,130.6 312.3,127.1 315.8,125.3 316.4,120.5 320.0,117.0 337.2,117.0 337.8,114.0 344.9,113.4 346.1,111.0 377.0,111.0 377.6,106.3 387.1,105.7 388.3,104.0 1124.1,104.0" fill="none" stroke="#cf1c24" stroke-width="4.443" stroke-linecap="square" stroke-linejoin="round"/>
<rect x="114.75" y="67.8" width="1057.7" height="788.6" fill="none" stroke="#000" stroke-width="2.2"/>
<line x1="162.8" y1="856.4" x2="162.8" y2="866.3" stroke="#000" stroke-width="2.0"/>
<line x1="114.75" y1="820.4" x2="104.4" y2="820.4" stroke="#000" stroke-width="2.0"/>
<text transform="translate(140.03,898.71) scale(0.9947,1.0080)" font-size="31.39">0</text><text transform="translate(158.38,898.60) scale(1.0210,1.0944)" font-size="31.39">.</text><text transform="translate(168.29,898.71) scale(0.9947,1.0080)" font-size="31.39">0</text>
<text transform="translate(47.78,832.06) scale(0.9947,1.0080)" font-size="31.39">0</text><text transform="translate(66.14,831.95) scale(1.0210,1.0944)" font-size="31.39">.</text><text transform="translate(76.04,832.06) scale(0.9947,1.0080)" font-size="31.39">0</text>
<line x1="355.1" y1="856.4" x2="355.1" y2="866.3" stroke="#000" stroke-width="2.0"/>
<line x1="114.75" y1="677.0" x2="104.4" y2="677.0" stroke="#000" stroke-width="2.0"/>
<text transform="translate(332.29,898.71) scale(0.9947,1.0080)" font-size="31.39">0</text><text transform="translate(350.64,898.60) scale(1.0210,1.0944)" font-size="31.39">.</text><text transform="translate(360.47,898.60) scale(0.9588,1.0030)" font-size="31.39">2</text>
<text transform="translate(47.78,688.66) scale(0.9947,1.0080)" font-size="31.39">0</text><text transform="translate(66.14,688.55) scale(1.0210,1.0944)" font-size="31.39">.</text><text transform="translate(75.97,688.55) scale(0.9588,1.0030)" font-size="31.39">2</text>
<line x1="547.3" y1="856.4" x2="547.3" y2="866.3" stroke="#000" stroke-width="2.0"/>
<line x1="114.75" y1="533.5" x2="104.4" y2="533.5" stroke="#000" stroke-width="2.0"/>
<text transform="translate(524.55,898.71) scale(0.9947,1.0080)" font-size="31.39">0</text><text transform="translate(542.90,898.60) scale(1.0210,1.0944)" font-size="31.39">.</text><text transform="translate(552.81,898.60) scale(0.9948,0.9999)" font-size="31.39">4</text>
<text transform="translate(47.78,545.26) scale(0.9947,1.0080)" font-size="31.39">0</text><text transform="translate(66.14,545.15) scale(1.0210,1.0944)" font-size="31.39">.</text><text transform="translate(76.04,545.15) scale(0.9948,0.9999)" font-size="31.39">4</text>
<line x1="739.6" y1="856.4" x2="739.6" y2="866.3" stroke="#000" stroke-width="2.0"/>
<line x1="114.75" y1="390.2" x2="104.4" y2="390.2" stroke="#000" stroke-width="2.0"/>
<text transform="translate(716.81,898.71) scale(0.9947,1.0080)" font-size="31.39">0</text><text transform="translate(735.16,898.60) scale(1.0210,1.0944)" font-size="31.39">.</text><text transform="translate(744.76,898.71) scale(1.0295,1.0080)" font-size="31.39">6</text>
<text transform="translate(47.78,401.86) scale(0.9947,1.0080)" font-size="31.39">0</text><text transform="translate(66.14,401.75) scale(1.0210,1.0944)" font-size="31.39">.</text><text transform="translate(75.74,401.86) scale(1.0295,1.0080)" font-size="31.39">6</text>
<line x1="931.8" y1="856.4" x2="931.8" y2="866.3" stroke="#000" stroke-width="2.0"/>
<line x1="114.75" y1="246.8" x2="104.4" y2="246.8" stroke="#000" stroke-width="2.0"/>
<text transform="translate(909.07,898.71) scale(0.9947,1.0080)" font-size="31.39">0</text><text transform="translate(927.42,898.60) scale(1.0210,1.0944)" font-size="31.39">.</text><text transform="translate(937.23,898.71) scale(1.0055,1.0080)" font-size="31.39">8</text>
<text transform="translate(47.78,258.46) scale(0.9947,1.0080)" font-size="31.39">0</text><text transform="translate(66.14,258.35) scale(1.0210,1.0944)" font-size="31.39">.</text><text transform="translate(75.95,258.46) scale(1.0055,1.0080)" font-size="31.39">8</text>
<line x1="1124.1" y1="856.4" x2="1124.1" y2="866.3" stroke="#000" stroke-width="2.0"/>
<line x1="114.75" y1="103.4" x2="104.4" y2="103.4" stroke="#000" stroke-width="2.0"/>
<text transform="translate(1101.58,898.60) scale(0.9500,0.9999)" font-size="31.39">1</text><text transform="translate(1119.68,898.60) scale(1.0210,1.0944)" font-size="31.39">.</text><text transform="translate(1129.59,898.71) scale(0.9947,1.0080)" font-size="31.39">0</text>
<text transform="translate(48.03,114.95) scale(0.9500,0.9999)" font-size="31.39">1</text><text transform="translate(66.14,114.95) scale(1.0210,1.0944)" font-size="31.39">.</text><text transform="translate(76.04,115.06) scale(0.9947,1.0080)" font-size="31.39">0</text>
<text transform="translate(506.40,939.75) scale(0.8499,0.9999)" font-size="31.39">F</text><text transform="translate(523.68,939.87) scale(0.8485,0.9890)" font-size="31.39">a</text><text transform="translate(541.94,939.75) scale(0.9646,0.9894)" font-size="31.39">l</text><text transform="translate(550.23,939.87) scale(0.9045,0.9917)" font-size="31.39">s</text><text transform="translate(565.12,939.87) scale(1.0192,0.9890)" font-size="31.39">e</text><text transform="translate(593.08,939.75) scale(0.8499,0.9999)" font-size="31.39">P</text><text transform="translate(610.66,939.87) scale(1.0031,0.9890)" font-size="31.39">o</text><text transform="translate(629.29,939.87) scale(0.9045,0.9917)" font-size="31.39">s</text><text transform="translate(644.67,939.75) scale(0.9646,0.9894)" font-size="31.39">i</text><text transform="translate(652.76,939.50) scale(1.1645,1.0126)" font-size="31.39">t</text><text transform="translate(664.51,939.75) scale(0.9646,0.9894)" font-size="31.39">i</text><text transform="translate(672.75,939.75) scale(1.0184,0.9768)" font-size="31.39">v</text><text transform="translate(689.78,939.87) scale(1.0192,0.9890)" font-size="31.39">e</text><text transform="translate(717.73,939.75) scale(0.9025,0.9999)" font-size="31.39">R</text><text transform="translate(738.37,939.87) scale(0.8485,0.9890)" font-size="31.39">a</text><text transform="translate(756.50,939.50) scale(1.1645,1.0126)" font-size="31.39">t</text><text transform="translate(767.76,939.87) scale(1.0192,0.9890)" font-size="31.39">e</text>
<text transform="translate(29.35,593.50) rotate(-90) translate(-0.81,0.00) scale(1.0292,0.9999)" font-size="31.39">T</text><text transform="translate(29.35,593.50) rotate(-90) translate(18.74,0.00) scale(1.1295,0.9821)" font-size="31.39">r</text><text transform="translate(29.35,593.50) rotate(-90) translate(30.71,0.11) scale(1.0174,1.0070)" font-size="31.39">u</text><text transform="translate(29.35,593.50) rotate(-90) translate(49.32,0.12) scale(1.0192,0.9890)" font-size="31.39">e</text><text transform="translate(29.35,593.50) rotate(-90) translate(77.27,0.00) scale(0.8499,0.9999)" font-size="31.39">P</text><text transform="translate(29.35,593.50) rotate(-90) translate(94.86,0.12) scale(1.0031,0.9890)" font-size="31.39">o</text><text transform="translate(29.35,593.50) rotate(-90) translate(113.48,0.12) scale(0.9045,0.9917)" font-size="31.39">s</text><text transform="translate(29.35,593.50) rotate(-90) translate(128.86,0.00) scale(0.9646,0.9894)" font-size="31.39">i</text><text transform="translate(29.35,593.50) rotate(-90) translate(136.96,-0.25) scale(1.1645,1.0126)" font-size="31.39">t</text><text transform="translate(29.35,593.50) rotate(-90) translate(148.71,0.00) scale(0.9646,0.9894)" font-size="31.39">i</text><text transform="translate(29.35,593.50) rotate(-90) translate(156.94,0.00) scale(1.0184,0.9768)" font-size="31.39">v</text><text transform="translate(29.35,593.50) rotate(-90) translate(173.97,0.12) scale(1.0192,0.9890)" font-size="31.39">e</text><text transform="translate(29.35,593.50) rotate(-90) translate(201.92,0.00) scale(0.9025,0.9999)" font-size="31.39">R</text><text transform="translate(29.35,593.50) rotate(-90) translate(222.57,0.12) scale(0.8485,0.9890)" font-size="31.39">a</text><text transform="translate(29.35,593.50) rotate(-90) translate(240.70,-0.25) scale(1.1645,1.0126)" font-size="31.39">t</text><text transform="translate(29.35,593.50) rotate(-90) translate(251.96,0.12) scale(1.0192,0.9890)" font-size="31.39">e</text>
<rect x="332.5" y="7.7" width="622.3" height="52.1" rx="4" ry="4" fill="#fff" fill-opacity="0.8" stroke="#d6d6d6" stroke-width="2.0"/>
<line x1="343.5" y1="31.5" x2="402.6" y2="31.5" stroke="#cf1c24" stroke-width="4.443" stroke-linecap="square"/>
<line x1="586.6" y1="31.5" x2="645.7" y2="31.5" stroke="#31538a" stroke-width="4.443" stroke-dasharray="16.44 7.11"/>
<line x1="796.6" y1="31.5" x2="855.7" y2="31.5" stroke="#7ea2b6" stroke-width="4.443" stroke-dasharray="28.43 7.11 4.443 7.11"/>
<text transform="translate(427.59,42.66) scale(0.8568,1.0080)" font-size="31.39">S</text><text transform="translate(444.99,42.55) scale(1.0292,0.9999)" font-size="31.39">T</text><text transform="translate(464.07,42.55) scale(0.9506,0.9999)" font-size="31.39">A</text><text transform="translate(484.55,42.55) scale(0.9763,0.9999)" font-size="31.39">D</text><text transform="translate(507.47,42.55) scale(0.9321,0.9999)" font-size="31.39">N</text>
<text transform="translate(669.31,42.66) scale(0.9203,1.0080)" font-size="31.39">G</text><text transform="translate(692.45,42.55) scale(0.9763,0.9999)" font-size="31.39">D</text><text transform="translate(715.37,42.55) scale(0.9321,0.9999)" font-size="31.39">N</text>
<text transform="translate(879.46,42.55) scale(0.9516,0.9999)" font-size="31.39">K</text><text transform="translate(898.93,42.55) scale(0.9321,0.9999)" font-size="31.39">N</text><text transform="translate(921.09,42.55) scale(0.9321,0.9999)" font-size="31.39">N</text>
</g>
</svg>
</body></html>
